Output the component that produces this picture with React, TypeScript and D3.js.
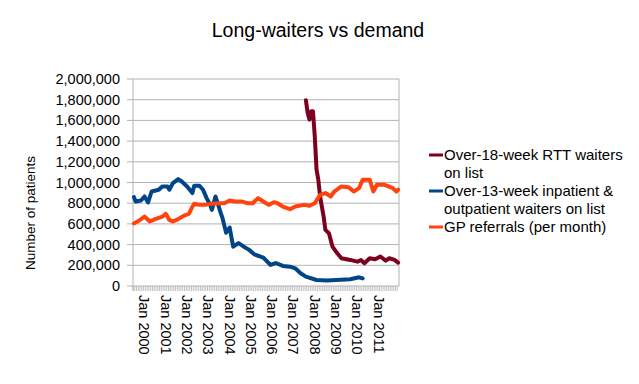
import React from "react";
import * as d3 from "d3";

// month categories on the x axis (Jul 1999 .. Dec 2011)
const firstMonth = new Date(1999, 6, 1);
const lastMonth = new Date(2012, 0, 1);
const monthKey = d3.timeFormat("%Y-%m");
const months = d3.timeMonth.range(firstMonth, lastMonth).map(monthKey);

const yearLabels = ["2000", "2001", "2002", "2003", "2004", "2005", "2006", "2007", "2008", "2009", "2010", "2011"];

// Over-18-week RTT waiters on list
const rttMonths = ["2007-08", "2007-09", "2007-10", "2007-11", "2007-12", "2008-01", "2008-02", "2008-03", "2008-04", "2008-06", "2008-07", "2008-09", "2008-11", "2009-01", "2009-04", "2009-09", "2010-01", "2010-03", "2010-05", "2010-08", "2010-11", "2011-02", "2011-05", "2011-07", "2011-10", "2011-12"];
const rttValues = [1795000, 1672000, 1608000, 1688000, 1688000, 1446000, 1124000, 1027000, 865000, 671000, 542000, 510000, 380000, 332000, 268000, 252000, 235000, 252000, 220000, 268000, 258000, 285000, 245000, 268000, 252000, 226000];

// Over-13-week inpatient & outpatient waiters on list
const over13Months = ["1999-07", "1999-08", "1999-11", "2000-01", "2000-03", "2000-05", "2000-09", "2000-11", "2001-02", "2001-03", "2001-05", "2001-08", "2001-10", "2002-01", "2002-04", "2002-05", "2002-08", "2002-10", "2002-12", "2003-02", "2003-03", "2003-05", "2003-06", "2003-08", "2003-09", "2003-11", "2004-01", "2004-03", "2004-06", "2004-09", "2004-12", "2005-03", "2005-08", "2005-12", "2006-03", "2006-07", "2006-11", "2007-02", "2007-05", "2007-08", "2008-02", "2008-08", "2009-01", "2009-09", "2010-02", "2010-04"];
const over13Values = [860000, 816000, 826000, 865000, 807000, 913000, 930000, 962000, 962000, 930000, 994000, 1033000, 1010000, 962000, 898000, 968000, 968000, 930000, 849000, 785000, 736000, 865000, 816000, 704000, 655000, 515000, 565000, 380000, 415000, 380000, 349000, 305000, 275000, 203000, 222000, 194000, 187000, 171000, 123000, 90000, 58000, 52000, 58000, 65000, 84000, 74000];

// GP referrals (per month)
const gpMonths = ["1999-07", "1999-10", "2000-01", "2000-04", "2000-07", "2000-11", "2001-01", "2001-03", "2001-05", "2001-08", "2001-11", "2002-02", "2002-04", "2002-05", "2002-08", "2002-11", "2003-03", "2003-07", "2003-10", "2004-01", "2004-04", "2004-08", "2004-11", "2005-02", "2005-05", "2005-08", "2005-11", "2006-02", "2006-04", "2006-07", "2006-11", "2007-02", "2007-07", "2007-10", "2008-01", "2008-04", "2008-07", "2008-10", "2008-12", "2009-04", "2009-08", "2009-11", "2010-02", "2010-04", "2010-08", "2010-10", "2010-12", "2011-04", "2011-06", "2011-09", "2011-11", "2011-12"];
const gpValues = [605000, 633000, 671000, 623000, 646000, 671000, 697000, 639000, 623000, 646000, 678000, 697000, 768000, 794000, 784000, 784000, 794000, 800000, 800000, 826000, 816000, 816000, 800000, 800000, 849000, 816000, 784000, 810000, 800000, 768000, 742000, 768000, 784000, 775000, 800000, 881000, 898000, 865000, 913000, 962000, 955000, 913000, 946000, 1027000, 1027000, 913000, 978000, 978000, 968000, 946000, 913000, 930000];

const series = [
  { name: ["Over-18-week RTT waiters", "on list"], color: "#7e0021", months: rttMonths, values: rttValues },
  { name: ["Over-13-week inpatient &", "outpatient waiters on list"], color: "#004586", months: over13Months, values: over13Values },
  { name: ["GP referrals (per month)"], color: "#ff420e", months: gpMonths, values: gpValues },
];

const W = 639, H = 384;
const left = 133, right = 399, top = 79, bottom = 286;
const font = "'Liberation Sans', Arial, sans-serif";

export default function App() {
  const x = d3.scaleBand().domain(months).range([left, right]);
  const y = d3.scaleLinear().domain([0, 2000000]).range([bottom, top]);
  const cx = (m: string) => (x(m) as number) + x.bandwidth() / 2;
  const fmt = d3.format(",");

  let legendRow = 0;

  return (
    <svg width={W} height={H} style={{ position: "absolute", left: 0, top: 0, background: "#fff" }} fontFamily={font}>
      <text x={318} y={37} textAnchor="middle" fontSize={19.5} fill="#000">Long-waiters vs demand</text>

      {/* grid + y axis */}
      {y.ticks(10).map((t) => (
        <g key={t}>
          <line x1={left} x2={right} y1={y(t)} y2={y(t)} stroke="#b3b3b3" strokeWidth={1} />
          <line x1={left - 6} x2={left} y1={y(t)} y2={y(t)} stroke="#b3b3b3" strokeWidth={1} />
          <text x={left - 13} y={y(t)} dy="0.35em" textAnchor="end" fontSize={14.5} fill="#000">{fmt(t)}</text>
        </g>
      ))}
      <line x1={left} x2={left} y1={top} y2={bottom + 5} stroke="#b3b3b3" />
      <line x1={right} x2={right} y1={top} y2={bottom} stroke="#b3b3b3" />
      <text transform={`translate(30,213) rotate(-90)`} dy="0.35em" textAnchor="middle" fontSize={13.5} fill="#000">Number of patients</text>

      {/* x axis: monthly ticks, yearly labels */}
      {months.map((m) => (
        <line key={m} x1={(x(m) as number)} x2={(x(m) as number)} y1={bottom} y2={bottom + 5} stroke="#b3b3b3" strokeWidth={0.8} />
      ))}
      {yearLabels.map((yr) => (
        <text key={yr} transform={`translate(${cx(yr + "-01")},295) rotate(90)`} dy="0.35em" textAnchor="start" fontSize={14.5} fill="#000">{`Jan ${yr}`}</text>
      ))}

      {/* lines */}
      {series.map((s) => {
        const pts = s.months.map((m, i) => [cx(m), y(s.values[i])] as [number, number]);
        const path = d3.line()(pts) || "";
        return <path key={s.color} d={path} fill="none" stroke={s.color} strokeWidth={4} strokeLinejoin="round" strokeLinecap="round" />;
      })}

      {/* legend */}
      {series.map((s) => {
        const row = legendRow;
        legendRow += s.name.length;
        const ly = 155 + row * 18;
        return (
          <g key={s.color + "lg"}>
            <line x1={429} x2={443} y1={ly} y2={ly} stroke={s.color} strokeWidth={3} />
            {s.name.map((t, i) => (
              <text key={t} x={444} y={ly + i * 18} dy="0.35em" fontSize={15} fill="#000">{t}</text>
            ))}
          </g>
        );
      })}
    </svg>
  );
}
